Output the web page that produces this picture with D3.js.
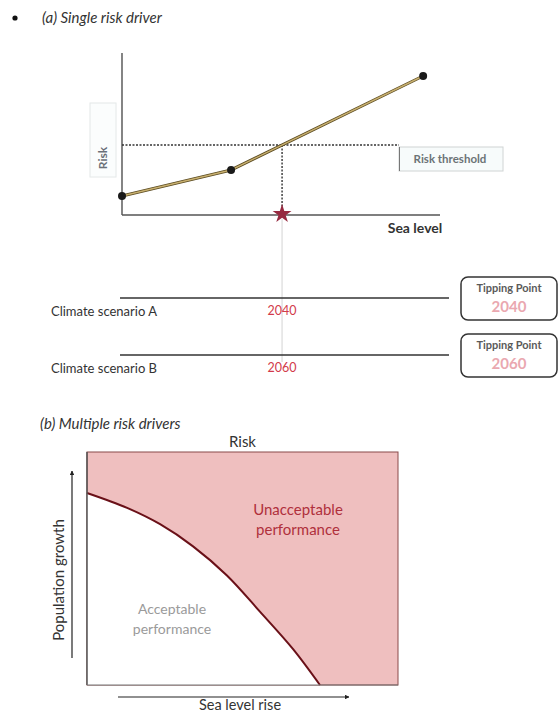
<!DOCTYPE html>
<html>
<head>
<meta charset="utf-8">
<script src="https://cdn.jsdelivr.net/npm/d3@7"></script>
<style>
  body { margin: 0; background: #fff; }
  text { font-family: Lato, "Open Sans", sans-serif; }
</style>
</head>
<body>
<script>
// panel (a) data: risk vs sea level
var seaLevel = [0, 3.43, 9.47];
var riskValues = [1.17, 2.78, 8.58];
var riskThreshold = 4.32;

// climate scenarios with the year the tipping point is hit
var scenarioNames = ["Climate scenario A", "Climate scenario B"];
var tippingYears = [2040, 2060];

// panel (b) data: boundary between acceptable / unacceptable
var boundarySeaRise = [0, 0.129, 0.235, 0.341, 0.45, 0.556, 0.662, 0.749];
var boundaryPopGrowth = [0.824, 0.76, 0.69, 0.595, 0.47, 0.315, 0.155, 0];

var svg = d3.select("body").append("svg")
    .attr("width", 559)
    .attr("height", 714);

var defs = svg.append("defs");
defs.append("marker")
    .attr("id", "arrow")
    .attr("viewBox", "0 0 10 10")
    .attr("refX", 9).attr("refY", 5)
    .attr("markerWidth", 4).attr("markerHeight", 4)
    .attr("orient", "auto")
  .append("path")
    .attr("d", "M0,0 L10,5 L0,10 z")
    .attr("fill", "#222");

// ---------- panel (a) ----------
svg.append("circle").attr("cx", 15).attr("cy", 18).attr("r", 2.6).attr("fill", "#111");
svg.append("text")
    .attr("x", 42).attr("y", 23)
    .style("font-size", "15px").style("font-style", "italic")
    .style("fill", "#333")
    .text("(a) Single risk driver");

var x = d3.scaleLinear().domain([0, 10]).range([122, 440]);
var y = d3.scaleLinear().domain([0, 10]).range([215, 53]);

// crossing of the risk line with the threshold
var crossX = 0;
for (var i = 0; i < seaLevel.length - 1; i++) {
  if (riskValues[i] <= riskThreshold && riskValues[i + 1] >= riskThreshold) {
    var t = (riskThreshold - riskValues[i]) / (riskValues[i + 1] - riskValues[i]);
    crossX = seaLevel[i] + t * (seaLevel[i + 1] - seaLevel[i]);
  }
}

// light guide line down to the scenarios
svg.append("line")
    .attr("x1", x(crossX)).attr("x2", x(crossX))
    .attr("y1", y(0) + 4).attr("y2", 362)
    .attr("stroke", "#e2e2e2").attr("stroke-width", 1.5);

// risk label box
svg.append("rect")
    .attr("x", 90).attr("y", 103).attr("width", 26).attr("height", 74)
    .attr("fill", "#fbfdfd").attr("stroke", "#e4e8e8");
svg.append("text")
    .attr("transform", "translate(107,158) rotate(-90)")
    .style("text-anchor", "middle")
    .style("font-size", "12px").style("font-weight", "bold")
    .style("fill", "#6a7078")
    .text("Risk");

// axes
svg.append("line")
    .attr("x1", x(0)).attr("x2", x(0)).attr("y1", y(10)).attr("y2", y(0))
    .attr("stroke", "#666").attr("stroke-width", 1.6);
svg.append("line")
    .attr("x1", x(0)).attr("x2", x(10)).attr("y1", y(0)).attr("y2", y(0))
    .attr("stroke", "#555").attr("stroke-width", 1.6);
svg.append("text")
    .attr("x", 415).attr("y", 233)
    .style("text-anchor", "middle")
    .style("font-size", "14px").style("font-weight", "bold")
    .style("fill", "#333")
    .text("Sea level");

// threshold
svg.append("line")
    .attr("x1", x(0)).attr("x2", 399)
    .attr("y1", y(riskThreshold)).attr("y2", y(riskThreshold))
    .attr("stroke", "#333").attr("stroke-width", 1.4)
    .attr("stroke-dasharray", "2,1.5");
svg.append("line")
    .attr("x1", x(crossX)).attr("x2", x(crossX))
    .attr("y1", y(riskThreshold)).attr("y2", y(0))
    .attr("stroke", "#333").attr("stroke-width", 1.4)
    .attr("stroke-dasharray", "2,1.5");
svg.append("rect")
    .attr("x", 399).attr("y", 147).attr("width", 104).attr("height", 24)
    .attr("fill", "#f7fbfb").attr("stroke", "#d0d4d4");
svg.append("line")
    .attr("x1", 399.5).attr("x2", 399.5).attr("y1", 147).attr("y2", 171)
    .attr("stroke", "#777").attr("stroke-width", 1);
svg.append("text")
    .attr("x", 450).attr("y", 163)
    .style("text-anchor", "middle")
    .style("font-size", "11.5px").style("font-weight", "bold")
    .style("fill", "#6c7376")
    .text("Risk threshold");

// risk line
var pts = seaLevel.map(function(d, i) { return [d, riskValues[i]]; });
var riskLine = d3.line()
    .x(function(d) { return x(d[0]); })
    .y(function(d) { return y(d[1]); });
svg.append("path")
    .datum(pts)
    .attr("d", riskLine)
    .attr("fill", "none")
    .attr("stroke", "#5a4a20").attr("stroke-width", 3);
svg.append("path")
    .datum(pts)
    .attr("d", riskLine)
    .attr("fill", "none")
    .attr("stroke", "#c8b070").attr("stroke-width", 1.5);
svg.selectAll("circle.pt")
    .data(pts)
    .enter().append("circle")
    .attr("class", "pt")
    .attr("cx", function(d) { return x(d[0]); })
    .attr("cy", function(d) { return y(d[1]); })
    .attr("r", 4)
    .attr("fill", "#1a1a1a");

// star where the threshold is crossed
svg.append("path")
    .attr("d", d3.symbol(d3.symbolStar).size(110)())
    .attr("transform", "translate(" + x(crossX) + "," + (y(0) - 1) + ")")
    .attr("fill", "#962a40");

// scenarios
var sy = d3.scalePoint().domain(scenarioNames).range([298, 355]);
var sg = svg.selectAll("g.scen")
    .data(scenarioNames)
    .enter().append("g")
    .attr("class", "scen");
sg.append("line")
    .attr("x1", 120).attr("x2", 449)
    .attr("y1", function(d) { return sy(d); })
    .attr("y2", function(d) { return sy(d); })
    .attr("stroke", "#333").attr("stroke-width", 1.3);
sg.append("text")
    .attr("x", 51)
    .attr("y", function(d) { return sy(d) + 18; })
    .style("font-size", "13px").style("fill", "#333")
    .text(function(d) { return d; });
sg.append("text")
    .attr("x", x(crossX))
    .attr("y", function(d) { return sy(d) + 17; })
    .style("text-anchor", "middle")
    .style("font-size", "12.5px").style("fill", "#d23a4a")
    .text(function(d, i) { return tippingYears[i]; });
sg.append("rect")
    .attr("x", 461)
    .attr("y", function(d) { return sy(d) - 21; })
    .attr("width", 96).attr("height", 43)
    .attr("rx", 7)
    .attr("fill", "#fff").attr("stroke", "#333").attr("stroke-width", 1.5);
sg.append("text")
    .attr("x", 509)
    .attr("y", function(d) { return sy(d) - 6; })
    .style("text-anchor", "middle")
    .style("font-size", "11px").style("font-weight", "bold")
    .style("fill", "#5a5a5a")
    .text("Tipping Point");
sg.append("text")
    .attr("x", 509)
    .attr("y", function(d) { return sy(d) + 14; })
    .style("text-anchor", "middle")
    .style("font-size", "15px").style("font-weight", "bold")
    .style("fill", "#eaa8b0")
    .text(function(d, i) { return tippingYears[i]; });

// ---------- panel (b) ----------
svg.append("text")
    .attr("x", 40).attr("y", 429)
    .style("font-size", "15px").style("font-style", "italic")
    .style("fill", "#333")
    .text("(b) Multiple risk drivers");

var bx = d3.scaleLinear().domain([0, 1]).range([87, 398]);
var by = d3.scaleLinear().domain([0, 1]).range([685, 452]);

svg.append("text")
    .attr("x", (bx(0) + bx(1)) / 2).attr("y", 447)
    .style("text-anchor", "middle")
    .style("font-size", "15px").style("fill", "#333")
    .text("Risk");

svg.append("rect")
    .attr("x", bx(0)).attr("y", by(1))
    .attr("width", bx(1) - bx(0)).attr("height", by(0) - by(1))
    .attr("fill", "#efbfbf").attr("stroke", "#8a4a4a").attr("stroke-width", 1);

var bpts = boundarySeaRise.map(function(d, i) { return [d, boundaryPopGrowth[i]]; });
svg.append("path")
    .datum(bpts)
    .attr("d", d3.area()
        .x(function(d) { return bx(d[0]); })
        .y0(by(0))
        .y1(function(d) { return by(d[1]); })
        .curve(d3.curveCatmullRom.alpha(0.5)))
    .attr("fill", "#fff");
svg.append("path")
    .datum(bpts)
    .attr("d", d3.line()
        .x(function(d) { return bx(d[0]); })
        .y(function(d) { return by(d[1]); })
        .curve(d3.curveCatmullRom.alpha(0.5)))
    .attr("fill", "none")
    .attr("stroke", "#6a1018").attr("stroke-width", 2);

// left and bottom edges
svg.append("line")
    .attr("x1", bx(0)).attr("x2", bx(0)).attr("y1", by(1)).attr("y2", by(0))
    .attr("stroke", "#555").attr("stroke-width", 1.5);
svg.append("line")
    .attr("x1", bx(0)).attr("x2", bx(1)).attr("y1", by(0)).attr("y2", by(0))
    .attr("stroke", "#777").attr("stroke-width", 1);

svg.append("text")
    .attr("x", 298).attr("y", 515)
    .style("text-anchor", "middle")
    .style("font-size", "15px").style("fill", "#b0303c")
    .text("Unacceptable");
svg.append("text")
    .attr("x", 298).attr("y", 535)
    .style("text-anchor", "middle")
    .style("font-size", "15px").style("fill", "#b0303c")
    .text("performance");
svg.append("text")
    .attr("x", 172).attr("y", 614)
    .style("text-anchor", "middle")
    .style("font-size", "14px").style("fill", "#9a9a9a")
    .text("Acceptable");
svg.append("text")
    .attr("x", 172).attr("y", 634)
    .style("text-anchor", "middle")
    .style("font-size", "14px").style("fill", "#9a9a9a")
    .text("performance");

// arrows
svg.append("line")
    .attr("x1", 72).attr("x2", 72).attr("y1", 658).attr("y2", 471)
    .attr("stroke", "#222").attr("stroke-width", 1.2)
    .attr("marker-end", "url(#arrow)");
svg.append("text")
    .attr("transform", "translate(64,580) rotate(-90)")
    .style("text-anchor", "middle")
    .style("font-size", "15px").style("fill", "#333")
    .text("Population growth");
svg.append("line")
    .attr("x1", 118).attr("x2", 349).attr("y1", 697).attr("y2", 697)
    .attr("stroke", "#222").attr("stroke-width", 1.2)
    .attr("marker-end", "url(#arrow)");
svg.append("text")
    .attr("x", 240).attr("y", 710)
    .style("text-anchor", "middle")
    .style("font-size", "14.5px").style("fill", "#333")
    .text("Sea level rise");
</script>
</body>
</html>
